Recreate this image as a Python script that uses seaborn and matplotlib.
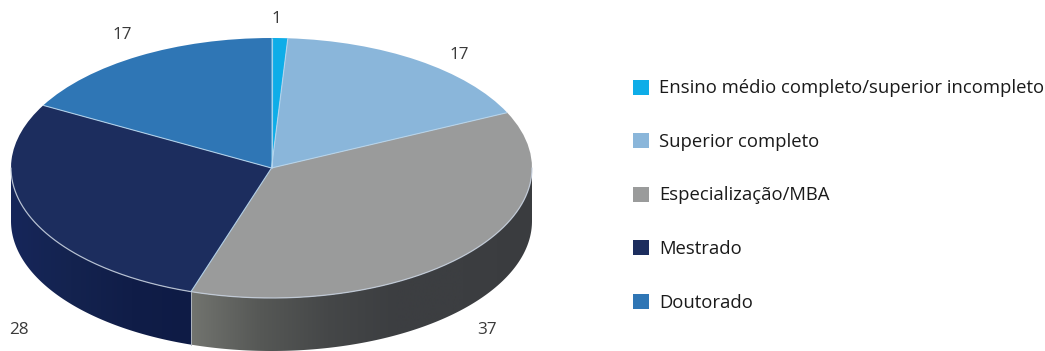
import numpy as np
import matplotlib
matplotlib.use("Agg")
import matplotlib.pyplot as plt
from matplotlib.colors import LinearSegmentedColormap
from matplotlib.patches import Patch, Polygon
import seaborn as sns

# Respondents by education level (%)
categories = [
    "Ensino médio completo/superior incompleto",
    "Superior completo",
    "Especialização/MBA",
    "Mestrado",
    "Doutorado",
]
values = [1, 17, 37, 28, 17]
top_colors = ["#0EADE8", "#8AB6DA", "#9A9B9B", "#1C2D5E", "#2F76B5"]
side_ramps = {
    2: ["#72746F", "#565856", "#454748", "#3C3E41", "#3C3E41", "#3A3C3F"],
    3: ["#16265A", "#14234F", "#101D48", "#0E1B45"],
}

W, H = 1045, 351
CX, CY, RX, RY, DEPTH = 271.5, 168.0, 260.5, 130.0, 53.0

sns.set_theme(style="white")
plt.rcParams["font.family"] = ["Open Sans", "DejaVu Sans"]
palette = sns.color_palette(top_colors)

fig = plt.figure(figsize=(W / 100, H / 100), dpi=100)
ax = fig.add_axes([0, 0, 1, 1])

wedges, _ = ax.pie(
    values, colors=palette, startangle=90, counterclock=False,
    radius=1.0, center=(0, 0), frame=False,
    wedgeprops=dict(linewidth=0, zorder=3),
)

# The unit circle becomes an ellipse through the axis limits
xlim = (-CX / RX, (W - CX) / RX)
ylim = ((CY - H) / RY, CY / RY)
ax.set_aspect("auto")
depth = DEPTH / RY

edges = np.concatenate([[0], np.cumsum(values)]) / np.sum(values) * 360.0

# Shaded side wall below the front half of the disc
seam = np.sin(np.radians(edges[3]))
for i, ramp in side_ramps.items():
    a0 = max(edges[i], 90.0)
    a1 = min(edges[i + 1], 270.0)
    t = np.radians(np.linspace(a0, a1, 160))
    xs, ys = np.sin(t), np.cos(t)
    poly = np.vstack([np.column_stack([xs, ys]),
                      np.column_stack([xs[::-1], ys[::-1] - depth])])
    patch = Polygon(poly, closed=True, fc="none", ec="none", transform=ax.transData)
    ax.add_patch(patch)
    cmap = LinearSegmentedColormap.from_list(f"wall{i}", ramp)
    grad = np.linspace(0, 1, 256)[None, :]
    left, right = (seam, 1.0) if i == 2 else (-1.0, seam)
    im = ax.imshow(grad, cmap=cmap, extent=(left, right, -2, 1), aspect="auto", zorder=1,
                   interpolation="bilinear")
    im.set_clip_path(patch)

# Light rim along the front of the disc
t = np.radians(np.linspace(90, 270, 300))
ax.plot(np.sin(t), np.cos(t), color="#C6D0DE", lw=0.9, alpha=0.85, zorder=4)

# Separators between the slices
for a in edges[:-1]:
    r = np.radians(a)
    ax.plot([0, np.sin(r)], [0, np.cos(r)], color="#B7D6EE", lw=0.8, alpha=0.9, zorder=4,
            solid_capstyle="butt")

seam_r = np.radians(edges[3])
ax.plot([np.sin(seam_r)] * 2, [np.cos(seam_r), np.cos(seam_r) - depth],
        color="#AEB4BE", lw=0.7, zorder=4)

ax.set_xlim(*xlim)
ax.set_ylim(*ylim)
ax.set_xticks([])
ax.set_yticks([])
ax.axis("off")

# Value labels around the disc
label_px = [(276, 19), (459, 55), (487, 330), (19, 330), (122, 35)]
for v, (px, py) in zip(values, label_px):
    ax.text(px / W, 1 - py / H, str(v), transform=ax.transAxes, ha="center", va="center",
            fontsize=12.3, color="#3A3A3A", zorder=6)

handles = [Patch(facecolor=c, edgecolor="none") for c in palette]
leg = ax.legend(
    handles, categories, loc="center left", bbox_to_anchor=(633 / W, 1 - 195.5 / H),
    bbox_transform=ax.transAxes, frameon=False, fontsize=13.32,
    labelcolor="#1A1A1A", borderpad=0, borderaxespad=0,
    handlelength=0.87, handleheight=0.87, handletextpad=0.54, labelspacing=1.92,
)

fig.savefig("out.png", dpi=100, facecolor="white")
